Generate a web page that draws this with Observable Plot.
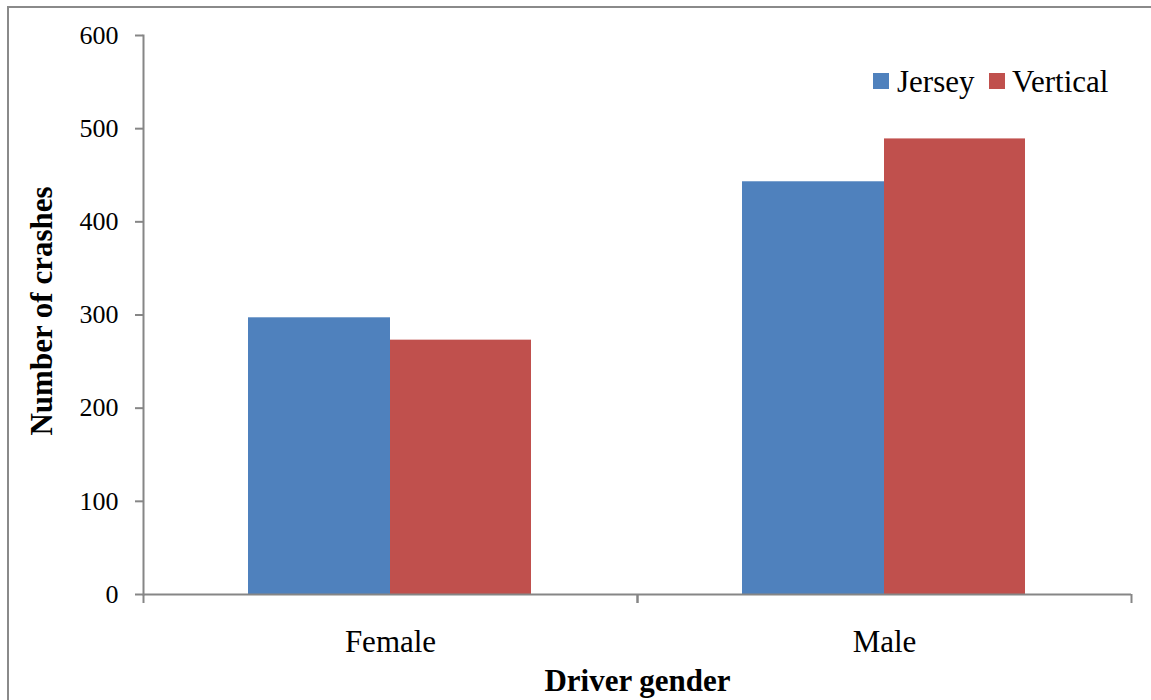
<!DOCTYPE html>
<html><head><meta charset="utf-8">
<script src="https://cdn.jsdelivr.net/npm/d3@7"></script>
<script src="https://cdn.jsdelivr.net/npm/@observablehq/plot@0.6"></script>
<style>
body{margin:0;background:#fff;font-family:"Liberation Serif",serif;}
#wrap{position:relative;width:1151px;height:700px;overflow:hidden;background:#fff;}
#border{position:absolute;left:7px;top:6px;width:1200px;height:800px;border:2px solid #8a8a8a;pointer-events:none;}
.sw{position:absolute;width:16px;height:16px;}
.lt{position:absolute;font-family:"Liberation Serif",serif;font-size:31px;line-height:31px;color:#000;white-space:nowrap;}
</style></head><body>
<div id="wrap"><div id="chart"></div><div id="legend"></div><div id="border"></div></div>
<script>
const genders = ["Female", "Male"];
const series = ["Jersey", "Vertical"];
const jersey = [297, 443];
const vertical = [273, 489];
const yTicks = [0, 100, 200, 300, 400, 500, 600];
const colors = ["#4F81BD", "#C0504D"];
const xTitle = "Driver gender";
const yTitle = "Number of crashes";

const axisColor = "#868686";
const serif = '"Liberation Serif", "Times New Roman", serif';
const chart = Plot.plot({
  width: 1151,
  height: 700,
  marginLeft: 143,
  marginRight: 20,
  marginTop: 35,
  marginBottom: 106,
  style: {fontFamily: serif, background: "transparent", color: "#000"},
  x: {type: "band", domain: genders, padding: 0},
  y: {domain: [0, 600]},
  marks: [
    Plot.barY(genders, {x: d => d, y: (d, i) => jersey[i], fill: colors[0], insetLeft: 105, insetRight: 247}),
    Plot.barY(genders, {x: d => d, y: (d, i) => vertical[i], fill: colors[1], insetLeft: 247, insetRight: 106}),
    Plot.ruleY([0], {stroke: axisColor, strokeWidth: 2}),
    Plot.frame({anchor: "left", stroke: axisColor, strokeWidth: 2}),
    Plot.axisY({ticks: yTicks, tickSize: 8, tickPadding: 17, fontSize: 26, fontFamily: serif, stroke: axisColor, strokeWidth: 2, label: null, tickFormat: d => String(d)}),
    Plot.axisX({tickSize: 0, tickPadding: 35, fontSize: 31, fontFamily: serif, label: null}),
    Plot.axisX({tickSize: 9, dx: -247, stroke: axisColor, strokeWidth: 2, tickFormat: () => "", label: null}),
    Plot.axisX({tickSize: 9, dx: 247, stroke: axisColor, strokeWidth: 2, tickFormat: () => "", label: null}),
    Plot.text([xTitle], {frameAnchor: "bottom", text: d => d, textAnchor: "middle", dy: 96, fontSize: 31, fontWeight: "bold", fontFamily: serif, fill: "#000"}),
    Plot.text([yTitle], {frameAnchor: "left", text: d => d, textAnchor: "middle", rotate: -90, dx: -101, dy: -4, fontSize: 31, fontWeight: "bold", fontFamily: serif, fill: "#000"})
  ]
});
document.getElementById("chart").appendChild(chart);

const legend = document.getElementById("legend");
const swX = [873, 989];
const txX = [897, 1012];
series.forEach((s, i) => {
  const sw = document.createElement("div");
  sw.className = "sw";
  sw.style.left = swX[i] + "px";
  sw.style.top = "73px";
  sw.style.background = colors[i];
  legend.appendChild(sw);
  const t = document.createElement("div");
  t.className = "lt";
  t.style.left = txX[i] + "px";
  t.style.top = "66px";
  t.textContent = s;
  legend.appendChild(t);
});
</script>
</body></html>
